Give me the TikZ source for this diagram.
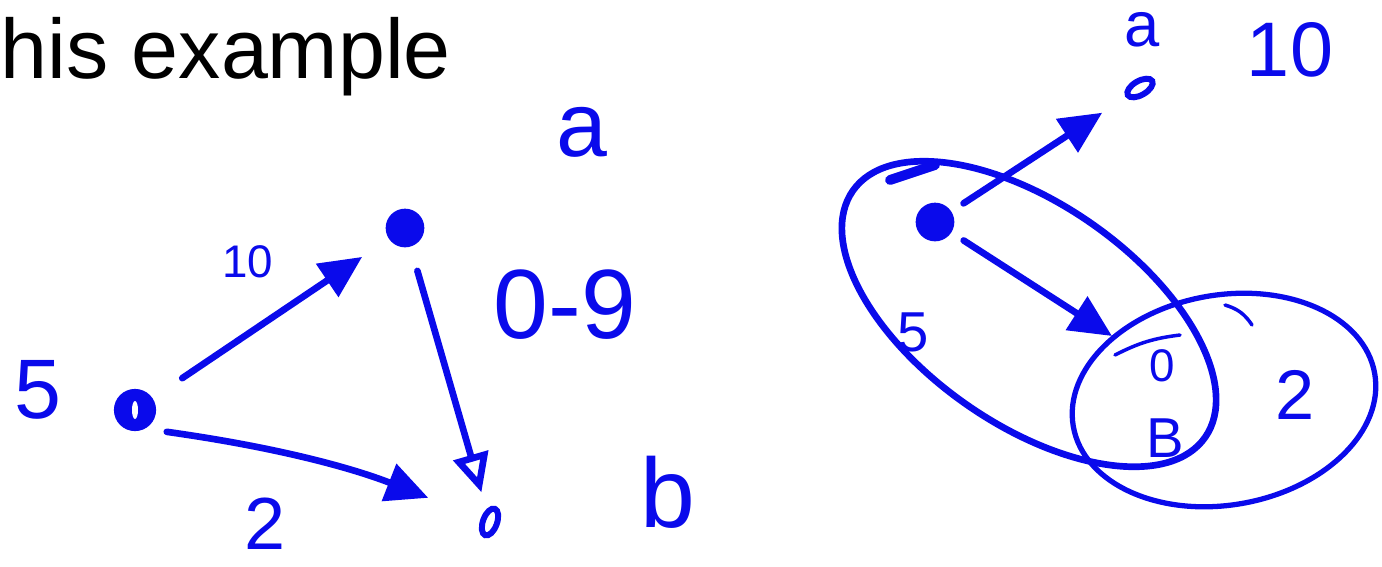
\documentclass[tikz,border=0pt]{standalone}
\usepackage{fontspec}
\setmainfont{Liberation Sans}
\usetikzlibrary{
  arrows.meta,      % 箭头样式
  positioning,      % 节点相对定位
  shapes.geometric  % 椭圆节点
}
\definecolor{penblue}{RGB}{10,10,235}
\tikzset{
  ink/.style={
    draw=penblue,
    line width=1.9pt,
    line cap=round
  },
  edge arrow/.style={
    ink,
    -{Triangle[length=12pt,width=11pt]}
  },
  open arrow/.style={
    ink,
    -{Triangle[open,length=11pt,width=10pt]}
  },
  solid vertex/.style={
    circle,
    fill=penblue,
    inner sep=0pt,
    minimum size=11pt
  },
  hollow vertex/.style={
    ellipse,
    draw=penblue,
    line width=1.7pt,
    inner sep=0pt,
    minimum width=4pt,
    minimum height=8pt
  },
  hand label/.style={
    text=penblue,
    inner sep=0pt
  }
}

\begin{document}
\begin{tikzpicture}[x=0.01cm, y=-0.01cm] % 以像素为单位：左图为带权有向图，右图为两个集合的椭圆
  \useasboundingbox (0,0) rectangle (1382,566); % 固定画面大小

  % 标题文字
  \node[anchor=base west, inner sep=0pt, font=\fontsize{24}{28}\selectfont] (title) at (0,78) {his example};

  % 左图：三个顶点
  \node[solid vertex, minimum size=12pt] (s) at (135,410) {}; % 源点 s
  \fill[white] (s.center) ellipse (3 and 9); % 源点内部的小圈
  \node[solid vertex] (a) at (405,228) {}; % 顶点 a
  \node[hollow vertex, rotate=-20] (b) at (490,522) {}; % 顶点 b

  % 左图：边
  \draw[edge arrow, shorten <=10pt, shorten >=9pt] (s) -- (a); % s 到 a，权 10
  \draw[open arrow, shorten <=7pt, shorten >=5pt] (a) -- (b); % a 到 b，权 -9
  \draw[edge arrow, shorten <=6pt, shorten >=16pt] (s.-60) to[out=-8, in=160] (b); % s 到 b，权 2

  % 左图：文字标注
  \node[hand label, font=\fontsize{24}{28}\selectfont] (lbl5) at (38,390) {5};
  \node[hand label, font=\fontsize{13}{15}\selectfont] (lbl10) at (248,262) {10};
  \node[hand label, font=\fontsize{26}{30}\selectfont] (lbla) at (582,132) {a};
  \node[hand label, font=\fontsize{28}{32}\selectfont] (lbl09) at (565,305) {0-9};
  \node[hand label, font=\fontsize{21}{25}\selectfont] (lbl2) at (265,524) {2};
  \node[hand label, font=\fontsize{28}{32}\selectfont] (lblb) at (668,492) {b};

  % 右图：两个集合
  \draw[ink, rotate around={-35:(1029,314)}] (1029,314) ellipse (215 and 110); % 左上集合
  \draw[ink, line width=1.5pt, rotate around={10:(1224,400)}] (1224,400) ellipse (153 and 105); % 右下集合

  % 右图：顶点与边
  \node[solid vertex] (src) at (935,222) {}; % 起点
  \node[hollow vertex, rotate=-60] (ra) at (1140,88) {}; % 顶点 a
  \coordinate (rb) at (1112,336); % 箭头末端
  \draw[edge arrow, shorten <=4pt, shorten >=8pt] (src) -- (ra);
  \draw[edge arrow, shorten <=4pt] (src) -- (rb);

  % 右图：手写的小弧线
  \draw[ink, line width=1pt] (1115,355) to[bend left=10] (1180,335);
  \draw[ink, line width=1pt] (1225,305) to[bend left=20] (1252,325);
  \draw[ink, line width=2.8pt] (890,180) -- (935,165);

  % 右图：文字标注
  \node[hand label, font=\fontsize{18}{22}\selectfont] (rlbla) at (1142,30) {a};
  \node[hand label, font=\fontsize{22}{26}\selectfont] (rlbl10) at (1290,50) {10};
  \node[hand label, font=\fontsize{16}{20}\selectfont] (rlbl5) at (913,332) {5};
  \node[hand label, font=\fontsize{13}{15}\selectfont] (rlbl0) at (1162,366) {0};
  \node[hand label, font=\fontsize{16}{20}\selectfont] (rlblB) at (1165,438) {B};
  \node[hand label, font=\fontsize{20}{24}\selectfont] (rlbl2) at (1295,395) {2};
\end{tikzpicture}
\end{document}
